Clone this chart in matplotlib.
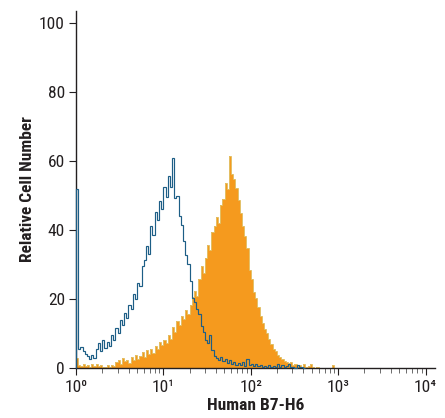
import numpy as np
import matplotlib
matplotlib.use("Agg")
import matplotlib.pyplot as plt
from matplotlib.ticker import FixedLocator, NullFormatter

plt.rcParams['font.family'] = ['Roboto Condensed', 'DejaVu Sans Condensed', 'Liberation Sans Narrow',
                               'Liberation Sans', 'DejaVu Sans']

# channel width in decades (log10 units)
bin_decades = 0.025

# isotype control (blue outline), one value per channel starting at 10^0
control_counts = [
    52.0, 5.5, 6.2, 4.8, 4.2, 3.4, 2.5, 3.8, 2.9, 5.6,
    7.2, 4.9, 8.1, 5.8, 7.4, 6.3, 9.6, 8.2, 11.5, 10.1,
    13.8, 12.4, 15.9, 14.6, 18.2, 17.0, 21.4, 20.1, 24.6, 23.8,
    29.5, 31.2, 35.4, 33.0, 41.2, 38.6, 45.3, 42.9, 48.4, 46.1,
    52.6, 49.5, 55.8, 52.4, 60.8, 49.2, 50.0, 44.0, 41.5, 36.8,
    32.9, 30.2, 25.1, 20.4, 19.0, 17.2, 15.8, 12.1, 10.3, 8.0,
    7.2, 9.6, 5.1, 3.6, 3.0, 2.4, 3.1, 2.0, 2.6, 1.5,
    2.2, 1.3, 1.8, 0.9, 1.4, 0.8, 1.6, 0.7, 2.6, 0.9,
    1.1, 0.6, 1.2, 0.5, 0.9, 0.4, 0.7, 0.3, 1.0, 0.3,
    0.6, 0.2, 1.1, 0.3, 0.8, 0.2, 0.5, 1.3, 0.2, 0.4,
    0.1, 0.9, 0.2, 0.3, 0.0,
]

# Human B7-H6 stained cells (orange filled)
stained_counts = [
    3.0, 1.0, 0.6, 1.2, 0.5, 0.9, 0.4, 1.1, 0.7, 1.3,
    0.5, 0.9, 0.3, 0.2, 0.8, 0.4, 1.0, 0.6, 1.6, 2.4,
    1.3, 2.8, 1.9, 2.2, 1.4, 3.1, 2.3, 3.8, 2.6, 3.4,
    4.6, 3.3, 5.2, 4.0, 5.6, 4.4, 6.3, 5.5, 7.4, 6.6,
    8.2, 7.3, 9.6, 8.5, 11.8, 10.4, 13.5, 12.6, 15.2, 14.3,
    16.9, 15.8, 18.4, 20.6, 22.3, 21.0, 25.7, 29.6, 27.4, 32.0,
    35.8, 34.1, 39.5, 41.2, 43.8, 42.0, 47.3, 49.1, 53.6, 52.0,
    61.5, 56.3, 54.8, 52.1, 48.6, 45.0, 41.3, 38.2, 34.7, 28.4,
    25.9, 22.1, 20.3, 17.6, 15.2, 13.1, 11.4, 10.2, 8.3, 7.0,
    5.6, 5.0, 3.9, 3.2, 2.6, 2.1, 1.7, 1.4, 1.8, 0.9,
    1.1, 0.6, 0.8, 0.4, 1.2, 0.3, 0.5, 1.2, 0.3, 0.1,
    0.2, 0.0, 0.1, 0.0, 0.0, 0.0, 0.0, 1.0, 0.0, 0.0,
    0.0,
]

y_ticks = [0, 20, 40, 60, 80, 100]
x_ticks = [1, 10, 100, 1000, 10000]
x_tick_labels = ["10\u2070", "10\u00b9", "10\u00b2", "10\u00b3", "10\u2074"]
x_label = "Human B7-H6"
y_label = "Relative Cell Number"

orange = "#F59A1E"
orange_edge = "#E3C066"
blue = "#1D5E86"
ink = "#231F20"

fig = plt.figure(figsize=(4.45, 4.18), dpi=100)
ax = fig.add_axes([76 / 445, 50 / 418, 359 / 445, 357 / 418])

edges_c = 10 ** (np.arange(len(control_counts) + 1) * bin_decades)
edges_s = 10 ** (np.arange(len(stained_counts) + 1) * bin_decades)

ax.stairs(stained_counts, edges_s, baseline=0, fill=True, color=orange, zorder=1, lw=0)
ax.stairs(stained_counts, edges_s, baseline=0, fill=False, color=orange_edge, lw=0.7, zorder=1.5)
ax.stairs(control_counts, edges_c, baseline=0, fill=False, color=blue, lw=0.85, zorder=3, clip_on=False)

ax.set_xscale('log')
ax.set_xlim(1, 10 ** 4.108)
ax.set_ylim(0, 103.5)

for s in ['top', 'right']:
    ax.spines[s].set_visible(False)
for s in ['left', 'bottom']:
    ax.spines[s].set_color(ink)
    ax.spines[s].set_linewidth(1.0)

ax.xaxis.set_major_locator(FixedLocator(x_ticks))
ax.set_xticklabels(x_tick_labels)
minor = [m * 10 ** d for d in range(4) for m in range(2, 10)]
ax.xaxis.set_minor_locator(FixedLocator(minor))
ax.xaxis.set_minor_formatter(NullFormatter())
ax.set_yticks(y_ticks)

ax.tick_params(axis='x', which='major', length=5, width=0.8, color=ink, labelsize=12.5, labelcolor=ink, pad=3.5)
ax.tick_params(axis='x', which='minor', length=3.5, width=0.6, color='#555555')
ax.tick_params(axis='y', which='major', length=5, width=0.8, color=ink, labelsize=12.5, labelcolor=ink, pad=3)

ax.set_xlabel(x_label, fontsize=12.5, fontweight='bold', color=ink, labelpad=2)
ax.set_ylabel(y_label, fontsize=12.5, fontweight='bold', color=ink, labelpad=3)

fig.savefig("out.png", dpi=100)
